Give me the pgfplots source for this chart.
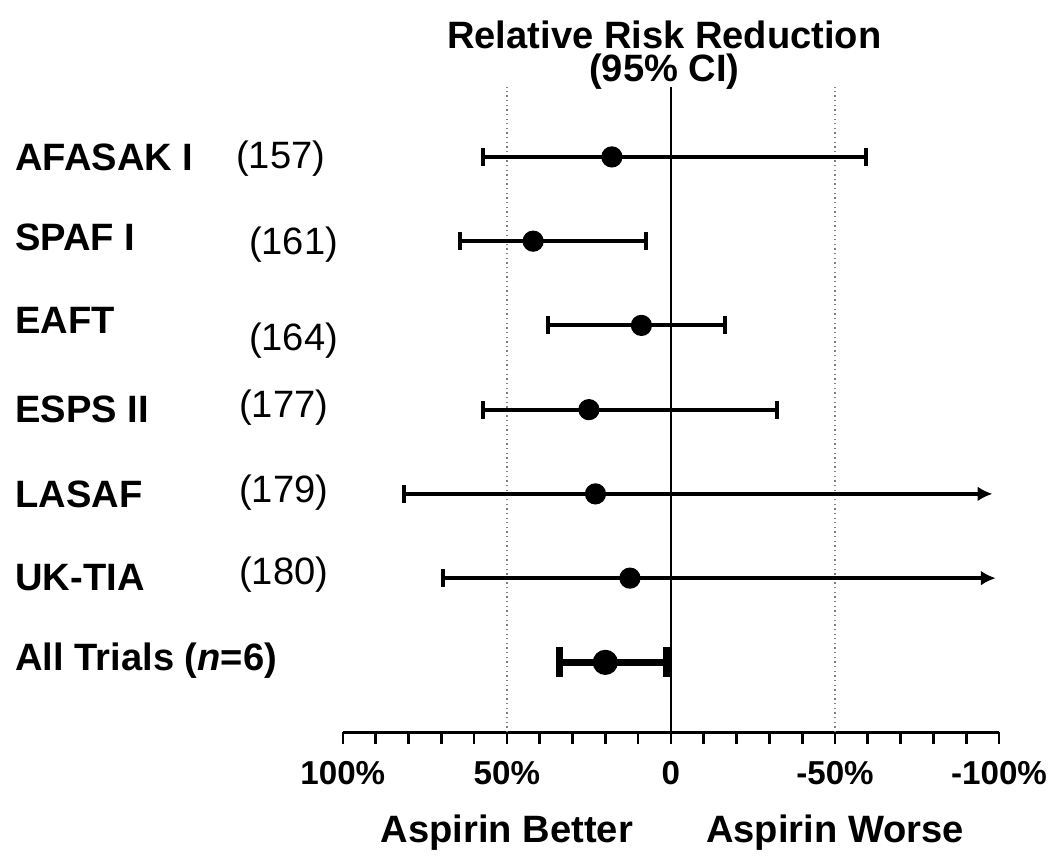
\documentclass[border=0pt]{standalone}
\usepackage{fontspec}
\setmainfont{Liberation Sans}
\usepackage{pgfplots}
\pgfplotsset{compat=1.18}
\usetikzlibrary{arrows.meta}

\begin{document}
\begin{tikzpicture}
\begin{axis}[
    x dir=reverse,
    xmin=-100, xmax=100,
    ymin=0.17, ymax=7.83,
    width=198pt, height=194.7pt,
    scale only axis,
    clip=false,
    axis x line*=bottom,
    axis y line=none,
    axis line style={-, line width=0.9pt},
    xtick={100,50,0,-50,-100},
    xticklabels={100\%,50\%,0,-50\%,-100\%},
    minor xtick={90,80,70,60,40,30,20,10,-10,-20,-30,-40,-60,-70,-80,-90},
    tick align=outside,
    major tick length=3.6pt,
    minor tick length=3.6pt,
    tick style={line width=0.8pt, black},
    ytick=\empty,
    xticklabel style={font=\fontsize{10}{12}\selectfont\bfseries, yshift=-1.5pt},
]
% reference lines
\addplot[black, line width=0.8pt] coordinates {(0,0.17) (0,7.83)};
\addplot[gray, line width=0.4pt, densely dotted] coordinates {(50,0.17) (50,7.83)};
\addplot[gray, line width=0.4pt, densely dotted] coordinates {(-50,0.17) (-50,7.83)};

% confidence intervals
\addplot[black, line width=1.2pt, {Bar[width=5.4pt]}-{Bar[width=5.4pt]}] coordinates {(58,7) (-60,7)};
\addplot[black, line width=1.2pt, {Bar[width=5.4pt]}-{Bar[width=5.4pt]}] coordinates {(65,6) (7,6)};
\addplot[black, line width=1.2pt, {Bar[width=5.4pt]}-{Bar[width=5.4pt]}] coordinates {(38,5) (-17,5)};
\addplot[black, line width=1.2pt, {Bar[width=5.4pt]}-{Bar[width=5.4pt]}] coordinates {(58,4) (-33,4)};
\addplot[black, line width=1.2pt, {Bar[width=5.4pt]}-{Latex[length=4.5pt,width=4.5pt]}] coordinates {(82,3) (-98,3)};
\addplot[black, line width=1.2pt, {Bar[width=5.4pt]}-{Latex[length=4.5pt,width=4.5pt]}] coordinates {(70,2) (-99,2)};
\addplot[black, line width=2pt, {Bar[width=9pt]}-{Bar[width=9pt]}] coordinates {(35,1) (0.3,1)};

% point estimates
\addplot[only marks, mark=*, mark size=3pt, black] coordinates {(18,7) (42,6) (9,5) (25,4) (23,3) (12.5,2)};
\addplot[only marks, mark=*, mark size=3.6pt, black] coordinates {(20,1)};

% titles and labels
\begin{scope}[font=\fontsize{11.5}{13}\selectfont\bfseries]
\node at (axis cs:2,8.45) {Relative Risk Reduction};
\node at (axis cs:2,8.01) {(95\% CI)};
\node[anchor=west, inner sep=0pt] at (axis cs:200,7.0) {AFASAK I};
\node[anchor=west, inner sep=0pt] at (axis cs:200,6.05) {SPAF I};
\node[anchor=west, inner sep=0pt] at (axis cs:200,5.06) {EAFT};
\node[anchor=west, inner sep=0pt] at (axis cs:200,4.0) {ESPS II};
\node[anchor=west, inner sep=0pt] at (axis cs:200,3.0) {LASAF};
\node[anchor=west, inner sep=0pt] at (axis cs:200,2.01) {UK-TIA};
\node[anchor=west, inner sep=0pt] at (axis cs:200,1.02) {All Trials (\textit{n}=6)};
\node at (axis cs:50,-1.02) {Aspirin Better};
\node at (axis cs:-50,-1.02) {Aspirin Worse};
\end{scope}
\begin{scope}[font=\fontsize{11.5}{13}\selectfont]
\node[anchor=west, inner sep=0pt] at (axis cs:132.7,6.98) {(157)};
\node[anchor=west, inner sep=0pt] at (axis cs:128.8,5.96) {(161)};
\node[anchor=west, inner sep=0pt] at (axis cs:128.8,4.82) {(164)};
\node[anchor=west, inner sep=0pt] at (axis cs:131.8,4.02) {(177)};
\node[anchor=west, inner sep=0pt] at (axis cs:131.8,3.02) {(179)};
\node[anchor=west, inner sep=0pt] at (axis cs:131.8,2.04) {(180)};
\end{scope}
\path (axis cs:204.5,8.863) rectangle (axis cs:-116,-1.264);
\end{axis}
\end{tikzpicture}
\end{document}
